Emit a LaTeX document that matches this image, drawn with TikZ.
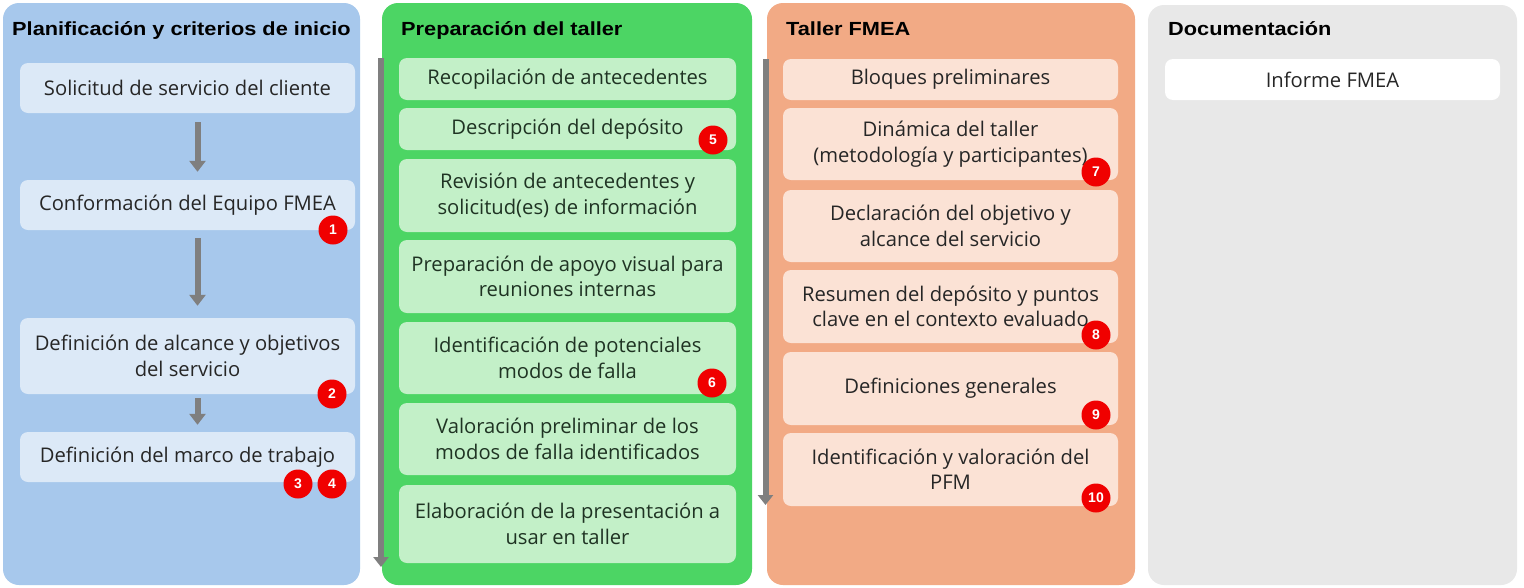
\documentclass[tikz,border=0pt]{standalone}
\usepackage{fontspec}
\setmainfont{Open Sans}
\newfontfamily\titlefont[FakeStretch=1.145]{Liberation Sans}
\newfontfamily\badgefont{Liberation Sans}
\usetikzlibrary{arrows.meta,calc}
\definecolor{cbluebg}{HTML}{A7C8EC}
\definecolor{cbluebox}{HTML}{DCE9F7}
\definecolor{cgreenbg}{HTML}{4CD564}
\definecolor{cgreenbox}{HTML}{C3F0C8}
\definecolor{corangebg}{HTML}{F2AA85}
\definecolor{corangebox}{HTML}{FBE2D5}
\definecolor{cgraybg}{HTML}{E8E8E8}
\definecolor{cdocbox}{HTML}{FFFFFF}
\definecolor{ctext}{HTML}{262626}
\definecolor{cgtext}{HTML}{1F3323}
\definecolor{carrow}{HTML}{7F7F7F}
\definecolor{cbadge}{HTML}{F00000}
\begin{document}
\begin{tikzpicture}[x=1pt,y=-1pt,
  column/.style={rounded corners=16pt, inner sep=0pt, draw=none},
  coltitle/.style={anchor=base west, inner sep=0pt, font=\titlefont\bfseries\fontsize{19}{23}\selectfont, text=black},
  stepbox/.style={rounded corners=8pt, inner sep=0pt, align=center, minimum width=335pt, text=ctext, font=\fontsize{20.2}{25.5}\selectfont},
  bluebox/.style={stepbox, fill=cbluebox},
  greenbox/.style={stepbox, fill=cgreenbox, minimum width=337pt, text=cgtext},
  orangebox/.style={stepbox, fill=corangebox},
  docbox/.style={stepbox, fill=cdocbox},
  badge/.style={circle, fill=cbadge, minimum size=29pt, inner sep=0pt, text=white, font=\badgefont\bfseries\fontsize{14}{14}\selectfont},
  bigarrow/.style={draw=carrow, line width=6pt, -{Triangle[width=16pt,length=11pt]}},
  longarrow/.style={draw=carrow, line width=6pt, -{Triangle[width=15pt,length=10pt]}}
]
\useasboundingbox (0,0) rectangle (1524,587);
\fill[white] (0,0) rectangle (1524,587);

% columns
\node[column, fill=cbluebg, minimum width=357pt, minimum height=582pt] (c1) at (181.5,294) {};
\node[column, fill=cgreenbg, minimum width=370pt, minimum height=582pt] (c2) at (567,294) {};
\node[column, fill=corangebg, minimum width=368pt, minimum height=582pt] (c3) at (951,294) {};
\node[column, fill=cgraybg, minimum width=369pt, minimum height=580pt] (c4) at (1332.5,295) {};

% titles
\node[coltitle] (t1) at (12,35) {Planificación y criterios de inicio};
\node[coltitle] (t2) at (401,35) {Preparación del taller};
\node[coltitle] (t3) at (786,35) {Taller FMEA};
\node[coltitle] (t4) at (1168,35) {Documentación};

% column 1
\node[bluebox, minimum height=50pt] (b1) at (187.5,88) {Solicitud de servicio del cliente};
\node[bluebox, minimum height=50pt] (b2) at (187.5,205) {Conformación del Equipo FMEA};
\node[bluebox, minimum height=76pt] (b3) at (187.5,356) {Definición de alcance y objetivos\\del servicio};
\node[bluebox, minimum height=50pt] (b4) at (187.5,457) {Definición del marco de trabajo};

\draw[bigarrow] ($(b1.south)+(10,9)$) -- ($(b2.north)+(10,-8)$);
\draw[bigarrow] ($(b2.south)+(10,8)$) -- ($(b3.north)+(10,-12)$);
\draw[bigarrow] ($(b3.south)+(10,4)$) -- ($(b4.north)+(10,-7)$);

% column 2
\node[greenbox, minimum height=42pt] (g1) at (567.5,79) {Recopilación de antecedentes};
\node[greenbox, minimum height=42pt] (g2) at (567.5,129) {Descripción del depósito};
\node[greenbox, minimum height=73pt] (g3) at (567.5,195.5) {Revisión de antecedentes y\\solicitud(es) de información};
\node[greenbox, minimum height=73pt] (g4) at (567.5,276.5) {Preparación de apoyo visual para\\reuniones internas};
\node[greenbox, minimum height=72pt] (g5) at (567.5,358) {Identificación de potenciales\\modos de falla};
\node[greenbox, minimum height=72pt] (g6) at (567.5,439) {Valoración preliminar de los\\modos de falla identificados};
\node[greenbox, minimum height=78pt] (g7) at (567.5,524) {Elaboración de la presentación a\\usar en taller};

% column 3
\node[orangebox, minimum height=41pt] (o1) at (950.5,79.5) {Bloques preliminares};
\node[orangebox, minimum height=72pt] (o2) at (950.5,144) {Dinámica del taller\\(metodología y participantes)};
\node[orangebox, minimum height=72pt] (o3) at (950.5,226) {Declaración del objetivo y\\alcance del servicio};
\node[orangebox, minimum height=73pt] (o4) at (950.5,306.5) {Resumen del depósito y puntos\\clave en el contexto evaluado};
\node[orangebox, minimum height=73pt] (o5) at (950.5,388.5) {Definiciones generales};
\node[orangebox, minimum height=73pt] (o6) at (950.5,469.5) {Identificación y valoración del\\PFM};

% column 4
\node[docbox, minimum height=41pt] (d1) at (1332.5,79.5) {Informe FMEA};

% long arrows
\coordinate (gs) at (381,58);
\coordinate (ge) at (381,567);
\coordinate (os) at (765.5,59);
\coordinate (oe) at (765.5,505);
\draw[longarrow] (gs) -- (ge);
\draw[longarrow] (os) -- (oe);

% badges
\node[badge] (n1) at (333,230) {1};
\node[badge] (n2) at (332,394) {2};
\node[badge] (n3) at (298,484) {3};
\node[badge] (n4) at (332,484) {4};
\node[badge] (n5) at (713,140) {5};
\node[badge] (n6) at (712,383) {6};
\node[badge] (n7) at (1096,172) {7};
\node[badge] (n8) at (1096,335) {8};
\node[badge] (n9) at (1096,415) {9};
\node[badge] (n10) at (1096,498) {10};
\end{tikzpicture}
\end{document}
